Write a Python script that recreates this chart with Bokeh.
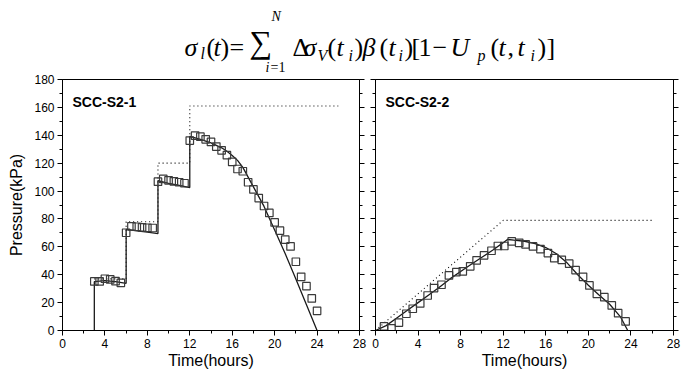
from bokeh.plotting import figure
from bokeh.models import (ColumnDataSource, LinearAxis, SingleIntervalTicker, Range1d,
                          Label, CustomJSTickFormatter)
from bokeh.layouts import column, row
from bokeh.embed import file_html
from bokeh.resources import INLINE
from bokeh.core.properties import value

# ---------------- data ----------------
# SCC-S2-1 : measured (squares)
t_exp1 = [3, 3.5, 4, 4.5, 5, 5.5, 6, 6.5, 7, 7.5, 8, 8.5, 9, 9.5, 10, 10.5, 11, 11.5,
          12, 12.5, 13, 13.5, 14, 14.5, 15, 15.5, 16, 16.5, 17, 17.5, 18, 18.5, 19,
          19.5, 20, 20.5, 21, 21.5, 22, 22.5, 23, 23.5, 24]
p_exp1 = [35.2, 35.2, 37.1, 36.6, 35.4, 34.2, 70.1, 74.7, 74.4, 74.0, 73.7, 73.5,
          106.7, 108.7, 107.7, 107.0, 106.3, 105.6, 136.2, 139.8, 139.0, 137.1, 135.2,
          131.9, 129.2, 125.7, 120.9, 115.8, 114.2, 106.3, 101.2, 95.0, 89.3, 84.3,
          77.5, 71.6, 65.1, 60.3, 49.3, 38.5, 31.8, 23.0, 14.1]
# SCC-S2-1 : model (solid)
t_mod1 = [3, 3, 4, 5, 6, 6, 7, 8, 9, 9, 10, 11, 12, 12, 13, 14, 15, 15.5, 16, 16.5,
          17, 17.5, 18, 18.5, 19, 20, 21, 22, 23, 24]
p_mod1 = [0, 35, 35.8, 35, 33.8, 72.5, 71.5, 70.5, 69.5, 107.5, 105.5, 104, 102.5,
          139.3, 137, 134.5, 131, 128.5, 125.5, 122, 117, 110, 103, 96, 89, 72, 55,
          37, 18.5, 0]
# SCC-S2-1 : applied load (dotted)
t_load1 = [3, 6, 6, 9, 9, 12, 12, 26]
p_load1 = [37, 37, 78, 78, 120, 120, 161, 161]

# SCC-S2-2 : measured (squares)
t_exp2 = [0.8, 1.5, 2.2, 2.9, 3.5, 4.2, 4.9, 5.5, 6.2, 6.9, 7.6, 8.2, 8.9, 9.5, 10.2,
          10.9, 11.5, 12.1, 12.8, 13.5, 14.1, 14.8, 15.5, 16.2, 16.8, 17.5, 18.2, 18.8,
          19.5, 20.1, 20.8, 21.5, 22.2, 22.8, 23.5]
p_exp2 = [2.9, 1.5, 5.7, 12.0, 15.6, 19.4, 25.1, 30.4, 32.8, 39.5, 41.9, 42.4, 46.0,
          50.3, 53.9, 57.2, 60.6, 60.6, 63.9, 62.9, 61.8, 60.3, 58.4, 55.5, 51.9, 50.7,
          47.9, 43.3, 38.5, 32.3, 26.3, 23.9, 18.0, 12.4, 6.5]
# SCC-S2-2 : model (solid)
t_mod2 = [0, 1, 2, 3, 4, 5, 6, 7, 8, 9, 10, 11, 12, 12.4, 13, 14, 15, 16, 17, 18, 19,
          20, 21, 22, 23, 23.7]
p_mod2 = [0, 3.5, 9, 14.5, 20, 25.5, 31, 37, 42.3, 47.5, 52.5, 57.5, 63, 65.3, 64.8,
          64, 62.3, 59.5, 55, 48.5, 40, 32.5, 25.5, 18.8, 10, 0]
# SCC-S2-2 : applied load (dotted)
t_load2 = [0, 12, 26]
p_load2 = [0, 79, 79]

panel_names = ["SCC-S2-1", "SCC-S2-2"]
x_label = "Time(hours)"
y_label = "Pressure(kPa)"

FONT = "Liberation Sans"
BLANK = CustomJSTickFormatter(code="return ''")


def style_axis(ax, labels=True):
    ax.axis_line_color = "black"
    ax.major_tick_in = 0
    ax.major_tick_out = 5
    ax.minor_tick_in = 0
    ax.minor_tick_out = 3
    ax.major_tick_line_color = "black"
    ax.minor_tick_line_color = "black"
    ax.major_label_text_font = FONT
    ax.major_label_text_font_size = "12px"
    ax.major_label_text_color = "black"
    ax.major_label_standoff = 3
    ax.axis_label_text_font = FONT
    ax.axis_label_text_font_size = "16px"
    ax.axis_label_text_font_style = "normal"
    ax.axis_label_text_color = "black"
    if not labels:
        ax.formatter = BLANK
        ax.major_label_standoff = 0


def panel(name, fw, bl, br, ylabels, t_exp, p_exp, t_mod, p_mod, t_load, p_load):
    p = figure(frame_width=fw, frame_height=251, x_range=Range1d(0, 28),
               y_range=Range1d(0, 180), output_backend="svg", toolbar_location=None,
               x_axis_type=None, y_axis_type=None,
               min_border_left=bl, min_border_right=br, min_border_top=5,
               min_border_bottom=44)
    p.outline_line_color = "black"
    p.outline_line_width = 1
    p.background_fill_color = "white"
    p.border_fill_color = "white"

    xa = LinearAxis(ticker=SingleIntervalTicker(interval=4, num_minor_ticks=2),
                    axis_label=x_label)
    style_axis(xa)
    xa.axis_label_standoff = 1
    p.add_layout(xa, "below")

    ya = LinearAxis(ticker=SingleIntervalTicker(interval=20, num_minor_ticks=2),
                    axis_label=y_label if ylabels else None)
    style_axis(ya, labels=ylabels)
    ya.axis_label_standoff = 6
    p.add_layout(ya, "left")

    yr = LinearAxis(ticker=SingleIntervalTicker(interval=20, num_minor_ticks=2))
    style_axis(yr, labels=False)
    p.add_layout(yr, "right")

    p.line(t_load, p_load, line_color="black", line_width=1.1, line_dash="1 3")
    p.line(t_mod, p_mod, line_color="#1a1a1a", line_width=1.3)
    p.scatter(t_exp, p_exp, marker="square", size=7.5, fill_color=None,
              line_color="#3a3a3a", line_width=1.2)

    p.add_layout(Label(x=10, y=237, x_units="screen", y_units="screen", text=name,
                       text_font=FONT, text_font_size="14px", text_font_style="bold",
                       text_baseline="top", text_color="black"))
    return p


p1 = panel(panel_names[0], 297, 62, 8, True, t_exp1, p_exp1, t_mod1, p_mod1,
           t_load1, p_load1)
p2 = panel(panel_names[1], 298, 8, 14, False, t_exp2, p_exp2, t_mod2, p_mod2,
           t_load2, p_load2)

# ---------------- formula header ----------------
TW, TH = 687, 74
tf = figure(width=TW, height=TH, x_range=Range1d(0, TW), y_range=Range1d(0, TH),
            output_backend="svg", toolbar_location=None, x_axis_type=None,
            y_axis_type=None, min_border=0)
tf.outline_line_color = None
tf.background_fill_color = "white"
tf.border_fill_color = "white"

# (text, x, baseline, size, style) in header pixels from the top-left
pieces = [
    ("σ", 184, 47, 26, "italic"),
    ("l", 200, 53, 16, "italic"),
    ("(", 206, 47, 26, "normal"),
    ("t", 213, 47, 26, "italic"),
    (")", 220, 47, 26, "normal"),
    ("=", 229, 47, 26, "normal"),
    ("∑", 249, 41, 32, "normal"),
    ("N", 271, 16, 14, "italic"),
    ("i", 265, 67, 14, "italic"),
    ("=1", 270, 67, 14, "normal"),
    ("Δ", 292, 47, 26, "normal"),
    ("σ", 303, 47, 26, "italic"),
    ("V", 317, 55, 16, "italic"),
    ("(", 327, 47, 26, "normal"),
    ("t", 336, 47, 26, "italic"),
    ("i", 348, 55, 16, "italic"),
    (")", 354, 47, 26, "normal"),
    ("β", 362, 47, 26, "italic"),
    ("(", 379, 47, 26, "normal"),
    ("t", 388, 47, 26, "italic"),
    ("i", 398, 55, 16, "italic"),
    (")", 404, 47, 26, "normal"),
    ("[", 411, 47, 26, "normal"),
    ("1", 418, 47, 26, "normal"),
    ("−", 432, 47, 26, "normal"),
    ("U", 450, 47, 26, "italic"),
    ("p", 477, 55, 16, "italic"),
    ("(", 490, 47, 26, "normal"),
    ("t", 498, 47, 26, "italic"),
    (",", 507, 47, 26, "normal"),
    ("t", 517, 47, 26, "italic"),
    ("i", 530, 55, 16, "italic"),
    (")", 537, 47, 26, "normal"),
    ("]", 546, 47, 26, "normal"),
]
src = ColumnDataSource(dict(
    x=[px for _, px, _, _, _ in pieces],
    y=[TH - py for _, _, py, _, _ in pieces],
    text=[t for t, _, _, _, _ in pieces],
    size=["%dpx" % s for _, _, _, s, _ in pieces],
    style=[st for _, _, _, _, st in pieces],
))
tf.text(x="x", y="y", text="text", source=src, text_font=value("Liberation Serif"),
        text_font_size="size", text_font_style="style", text_baseline="alphabetic",
        text_align="left", text_color="black")

layout = column(tf, row(p1, p2, spacing=0), spacing=0)
open("out.html", "w").write(file_html(layout, INLINE))
